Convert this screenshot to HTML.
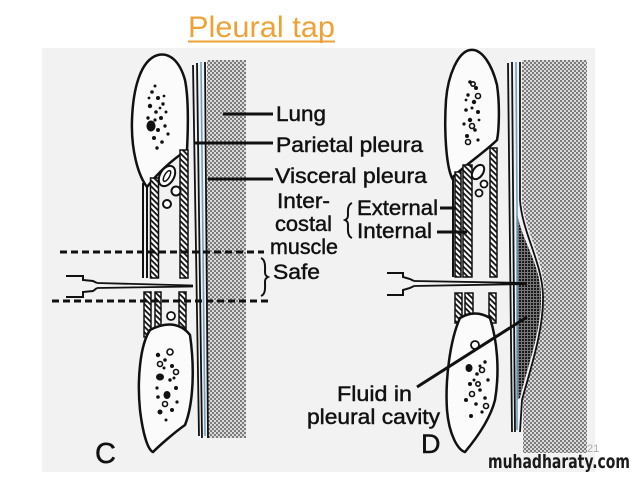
<!DOCTYPE html>
<html><head><meta charset="utf-8"><style>
html,body{margin:0;padding:0;background:#fff;}
svg{display:block}
text{font-family:"Liberation Sans",Arial,sans-serif;fill:#111;}
.lb{stroke:#111;stroke-width:0.45;}
</style></head><body>
<svg width="638" height="479" viewBox="0 0 638 479" xmlns="http://www.w3.org/2000/svg">
<defs>
<pattern id="lg" width="4" height="4" patternUnits="userSpaceOnUse">
<rect width="4" height="4" fill="#dadada"/>
<rect width="2" height="2" fill="#7c7c7c"/>
<rect x="2" y="2" width="2" height="2" fill="#7c7c7c"/>
</pattern>
<pattern id="hx" width="4" height="4" patternUnits="userSpaceOnUse" patternTransform="rotate(45)">
<rect width="4" height="4" fill="#fff"/>
<rect width="4" height="1.8" fill="#111"/>
</pattern>
<pattern id="fl" width="3" height="3" patternUnits="userSpaceOnUse">
<rect width="3" height="3" fill="#777"/>
<rect width="2" height="2" fill="#1a1a1a"/>
</pattern>
</defs>
<rect width="638" height="479" fill="#fff"/>
<rect x="42" y="48" width="553" height="424" fill="#f2f2f2"/>

<!-- title -->
<text x="188" y="37" font-size="30" style="fill:#eea236" textLength="147" lengthAdjust="spacingAndGlyphs">Pleural tap</text>
<rect x="188" y="40.5" width="147" height="2" fill="#eea236"/>

<!-- ===== C ===== -->
<rect x="207" y="60" width="39" height="378" fill="url(#lg)"/>
<g stroke="#111" fill="none" stroke-width="1.8">
<line x1="193" y1="65" x2="199" y2="436"/>
<line x1="197" y1="63" x2="202" y2="438"/>
<line x1="205" y1="62" x2="208" y2="438"/>
</g>
<line x1="201" y1="62" x2="205" y2="436" stroke="#6fa0c4" stroke-width="1.6"/>

<!-- upper rib C -->
<path d="M147,187 C138,175 131,150 132,120 C133,90 140,60 158,55 C170,52 180,62 185,80 C189,100 188,130 187,150 C175,158 160,170 147,187 Z" fill="#fbfbfb" stroke="#111" stroke-width="2.5"/>
<g fill="#111">
<circle cx="152" cy="92" r="1.8"/><circle cx="158" cy="98" r="2"/><circle cx="163" cy="104" r="1.7"/>
<circle cx="150" cy="106" r="2.2"/><circle cx="156" cy="112" r="1.8"/><circle cx="161" cy="118" r="2"/>
<ellipse cx="151" cy="126" rx="4.5" ry="5.5"/><circle cx="158" cy="130" r="2"/><circle cx="165" cy="126" r="1.7"/>
<circle cx="154" cy="138" r="2"/><circle cx="162" cy="142" r="1.8"/><circle cx="168" cy="134" r="1.6"/>
<circle cx="148" cy="118" r="1.7"/><circle cx="166" cy="112" r="1.5"/><circle cx="157" cy="148" r="1.7"/>
<circle cx="155" cy="120" r="1.6"/><circle cx="160" cy="108" r="1.4"/><circle cx="149" cy="98" r="1.4"/>
<circle cx="164" cy="96" r="1.4"/><circle cx="155" cy="86" r="1.5"/>
</g>
<!-- upper muscles C -->
<g stroke="#111" stroke-width="2" fill="none">
<line x1="143" y1="183" x2="143" y2="278"/>
<line x1="147" y1="186" x2="147" y2="278"/>
</g>
<rect x="150.5" y="178" width="8" height="100" fill="url(#hx)" stroke="#111" stroke-width="1.5"/>
<rect x="180" y="150" width="8" height="128" fill="url(#hx)" stroke="#111" stroke-width="1.5"/>
<ellipse cx="167" cy="176" rx="7" ry="11" transform="rotate(30 167 176)" fill="#fff" stroke="#111" stroke-width="2"/>
<ellipse cx="167" cy="176" rx="2.5" ry="6" transform="rotate(30 167 176)" fill="none" stroke="#111" stroke-width="1.5"/>
<circle cx="176" cy="191" r="4.5" fill="#fff" stroke="#111" stroke-width="2"/>
<circle cx="167" cy="204" r="4" fill="#fff" stroke="#111" stroke-width="2"/>

<!-- lower muscles C -->
<rect x="144" y="292" width="7" height="45" fill="url(#hx)" stroke="#111" stroke-width="1.5"/>
<rect x="155" y="292" width="6" height="42" fill="url(#hx)" stroke="#111" stroke-width="1.5"/>
<rect x="179" y="292" width="7" height="45" fill="url(#hx)" stroke="#111" stroke-width="1.5"/>
<circle cx="171" cy="316" r="4" fill="#fff" stroke="#111" stroke-width="1.8"/>
<path d="M150,330 C140,345 137,380 140,410 C143,435 148,450 153,452 C160,445 175,432 185,425 C193,405 195,370 190,335 C180,322 165,322 150,330 Z" fill="#fbfbfb" stroke="#111" stroke-width="2.5"/>
<g fill="#111">
<circle cx="158" cy="355" r="2.2"/><circle cx="165" cy="360" r="1.8"/><circle cx="172" cy="366" r="2"/>
<ellipse cx="160" cy="377" rx="4" ry="3.5"/><circle cx="170" cy="380" r="1.7"/><circle cx="176" cy="388" r="2"/>
<ellipse cx="167" cy="395" rx="3.5" ry="4"/><circle cx="158" cy="397" r="1.8"/><circle cx="160" cy="412" r="2.5"/>
<circle cx="172" cy="410" r="2"/><circle cx="177" cy="402" r="1.6"/><circle cx="164" cy="368" r="1.5"/>
<circle cx="157" cy="388" r="1.6"/><circle cx="174" cy="378" r="1.5"/><circle cx="166" cy="420" r="1.5"/>
</g>
<g fill="none" stroke="#111" stroke-width="1.6">
<circle cx="170" cy="352" r="3"/><circle cx="176" cy="372" r="2.5"/><circle cx="165" cy="404" r="2.5"/>
<circle cx="160" cy="364" r="2.5"/>
</g>

<!-- dashed lines C -->
<g stroke="#111" stroke-width="3" stroke-dasharray="7,4">
<line x1="60" y1="252" x2="264" y2="252"/>
<line x1="52" y1="301" x2="270" y2="301"/>
</g>
<!-- needle C -->
<polyline points="66,276 83,276 83,280 93,281 97,283" fill="none" stroke="#111" stroke-width="2"/>
<polyline points="66,297 83,297 83,292 93,291 97,288" fill="none" stroke="#111" stroke-width="2"/>
<line x1="97" y1="283" x2="193" y2="285.5" stroke="#111" stroke-width="1.8"/>
<line x1="97" y1="288" x2="193" y2="286.5" stroke="#111" stroke-width="1.8"/>

<!-- labels C -->
<g stroke="#111" stroke-width="3">
<line x1="223" y1="114" x2="273" y2="114"/>
<line x1="195" y1="143" x2="273" y2="143"/>
<line x1="208" y1="179" x2="273" y2="179"/>
</g>
<text class="lb" x="276" y="121" font-size="21" textLength="50" lengthAdjust="spacingAndGlyphs">Lung</text>
<text class="lb" x="276" y="152" font-size="21" textLength="147" lengthAdjust="spacingAndGlyphs">Parietal pleura</text>
<text class="lb" x="275" y="183" font-size="21" textLength="152" lengthAdjust="spacingAndGlyphs">Visceral pleura</text>
<text class="lb" x="277" y="208" font-size="21" textLength="53" lengthAdjust="spacingAndGlyphs">Inter-</text>
<text class="lb" x="275" y="231" font-size="21" textLength="57" lengthAdjust="spacingAndGlyphs">costal</text>
<text class="lb" x="270" y="254" font-size="21" textLength="68" lengthAdjust="spacingAndGlyphs">muscle</text>
<text class="lb" x="273" y="279" font-size="21" textLength="47" lengthAdjust="spacingAndGlyphs">Safe</text>
<path d="M261,258 C266,260 265,268 265,272 C265,275 266,276 268,277 C266,278 265,279 265,282 C265,287 266,294 261,296" fill="none" stroke="#111" stroke-width="2"/>
<path d="M352,203 C347,205 348,212 348,215 C348,218 347,219 345,220 C347,221 348,222 348,225 C348,229 347,236 352,238" fill="none" stroke="#111" stroke-width="2"/>
<text class="lb" x="357" y="215" font-size="21" textLength="81" lengthAdjust="spacingAndGlyphs">External</text>
<text class="lb" x="357" y="238" font-size="21" textLength="75" lengthAdjust="spacingAndGlyphs">Internal</text>
<text class="lb" x="95" y="463" font-size="29">C</text>

<!-- ===== D ===== -->
<path d="M522,60 H587 V453 H523 L523,400 C530,370 543,330 544,295 C545,260 524,230 522,200 Z" fill="url(#lg)"/>
<path d="M517,212 C521,240 540,262 541,295 C542,330 527,368 520,398 L517,400 Z" fill="url(#fl)"/>
<g stroke="#111" fill="none" stroke-width="1.8">
<line x1="508" y1="63" x2="512" y2="432"/>
<line x1="512" y1="62" x2="515" y2="432"/>
<path d="M520,62 L520,200 C522,232 542,262 543,295 C544,330 530,370 522,400 L520,432"/>
</g>
<path d="M516,62 L517,205 L517,430" stroke="#6fa0c4" stroke-width="1.6" fill="none"/>

<!-- upper rib D -->
<path d="M452,178 C446,165 444,130 446,100 C448,75 458,52 470,50 C482,48 492,65 497,85 C500,105 499,130 497,140 C485,152 465,165 452,178 Z" fill="#fbfbfb" stroke="#111" stroke-width="2.5"/>
<g fill="#111">
<circle cx="470" cy="82" r="1.8"/><circle cx="476" cy="88" r="2"/><circle cx="468" cy="95" r="1.7"/>
<circle cx="474" cy="102" r="2.2"/><circle cx="466" cy="110" r="1.8"/><circle cx="478" cy="112" r="2"/>
<circle cx="470" cy="120" r="2.2"/><circle cx="475" cy="130" r="1.8"/><circle cx="467" cy="136" r="2"/>
<circle cx="478" cy="140" r="1.6"/><circle cx="464" cy="124" r="1.6"/><circle cx="472" cy="108" r="1.5"/>
<circle cx="466" cy="100" r="1.4"/><circle cx="479" cy="120" r="1.4"/>
</g>
<g fill="none" stroke="#111" stroke-width="1.6">
<circle cx="478" cy="96" r="2.5"/><circle cx="472" cy="126" r="2.5"/><circle cx="468" cy="142" r="2.5"/>
<circle cx="473" cy="84" r="2.2"/>
</g>
<!-- upper muscles D -->
<g stroke="#111" stroke-width="2" fill="none">
<line x1="453" y1="178" x2="453" y2="277"/>
</g>
<rect x="455" y="172" width="6" height="105" fill="url(#hx)" stroke="#111" stroke-width="1.5"/>
<rect x="463" y="165" width="9" height="112" fill="url(#hx)" stroke="#111" stroke-width="1.5"/>
<rect x="490" y="148" width="7" height="129" fill="url(#hx)" stroke="#111" stroke-width="1.5"/>
<ellipse cx="478" cy="172" rx="5" ry="8" transform="rotate(35 478 172)" fill="#fff" stroke="#111" stroke-width="2"/>
<circle cx="484" cy="184" r="3.5" fill="#fff" stroke="#111" stroke-width="1.8"/>
<circle cx="479" cy="193" r="3.5" fill="#fff" stroke="#111" stroke-width="1.8"/>
<g stroke="#111" stroke-width="3">
<line x1="440" y1="208" x2="456" y2="208"/>
<line x1="437" y1="232" x2="467" y2="232"/>
</g>
<!-- lower muscles D -->
<rect x="455" y="293" width="7" height="30" fill="url(#hx)" stroke="#111" stroke-width="1.5"/>
<rect x="465" y="293" width="8" height="28" fill="url(#hx)" stroke="#111" stroke-width="1.5"/>
<rect x="489" y="293" width="7" height="30" fill="url(#hx)" stroke="#111" stroke-width="1.5"/>
<path d="M460,318 C450,340 445,380 447,410 C449,435 458,450 465,452 C475,440 490,420 495,400 C500,370 497,340 490,318 C480,312 470,312 460,318 Z" fill="#fbfbfb" stroke="#111" stroke-width="2.5"/>
<circle cx="475" cy="345" r="4" fill="#fff" stroke="#111" stroke-width="1.8"/>
<g fill="#111">
<ellipse cx="469" cy="368" rx="3.5" ry="4"/><circle cx="477" cy="374" r="1.8"/><circle cx="485" cy="362" r="1.7"/>
<circle cx="470" cy="384" r="2"/><circle cx="480" cy="390" r="1.8"/><circle cx="488" cy="380" r="1.7"/>
<circle cx="466" cy="400" r="2"/><circle cx="476" cy="404" r="1.8"/><circle cx="485" cy="398" r="1.8"/>
<circle cx="471" cy="416" r="2"/><circle cx="482" cy="412" r="1.6"/><circle cx="474" cy="380" r="1.5"/>
<circle cx="480" cy="366" r="1.5"/>
</g>
<g fill="none" stroke="#111" stroke-width="1.6">
<circle cx="482" cy="370" r="2.5"/><circle cx="472" cy="394" r="2.5"/><circle cx="486" cy="406" r="2.5"/>
<circle cx="478" cy="384" r="2.2"/>
</g>
<!-- needle D -->
<polyline points="387,273 403,273 403,277 410,279 414,281" fill="none" stroke="#111" stroke-width="2"/>
<polyline points="387,295 403,295 403,290 410,288 414,286" fill="none" stroke="#111" stroke-width="2"/>
<line x1="414" y1="281" x2="527" y2="283" stroke="#111" stroke-width="1.8"/>
<line x1="414" y1="286" x2="527" y2="284" stroke="#111" stroke-width="1.8"/>
<!-- pointer -->
<line x1="417" y1="387" x2="527" y2="317" stroke="#111" stroke-width="3"/>
<text class="lb" x="337" y="401" font-size="21" textLength="75" lengthAdjust="spacingAndGlyphs">Fluid in</text>
<text class="lb" x="307" y="424" font-size="21" textLength="133" lengthAdjust="spacingAndGlyphs">pleural cavity</text>
<text class="lb" x="421" y="453" font-size="27">D</text>

<text x="587" y="452" font-size="11" style="fill:#aaa">21</text>
<text x="488" y="468" font-size="19" font-weight="bold" style="fill:#1a1a1a;font-family:'DejaVu Sans','Liberation Sans',sans-serif" textLength="142" lengthAdjust="spacingAndGlyphs">muhadharaty.com</text>
</svg>
</body></html>
